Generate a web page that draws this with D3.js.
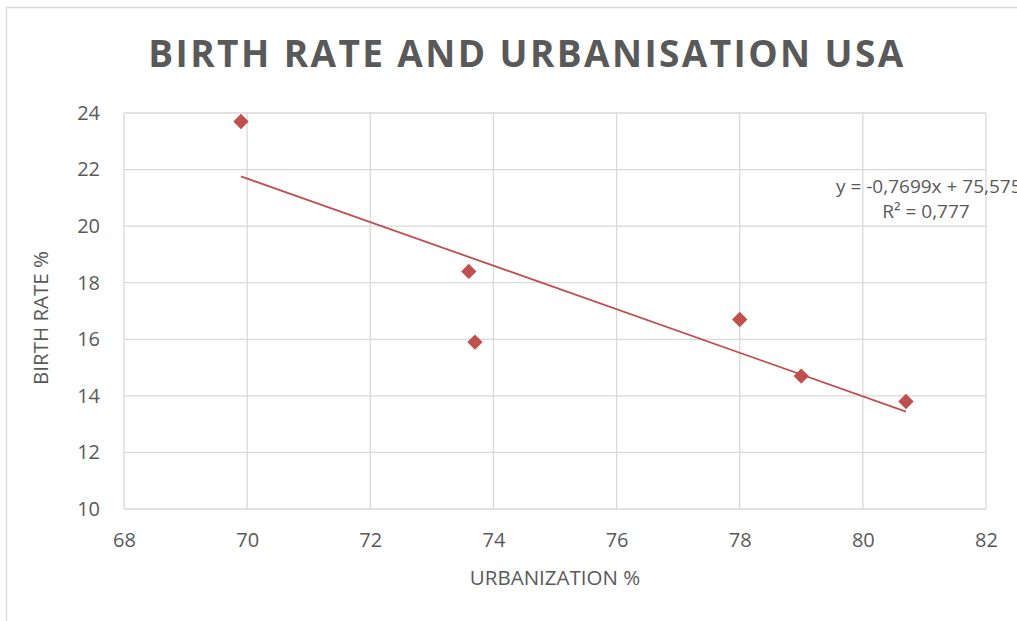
<!DOCTYPE html>
<html>
<head>
<meta charset="utf-8">
<script src="https://cdn.jsdelivr.net/npm/d3@7"></script>
<style>
  body { margin: 0; background: #fff; }
  text { font-family: "Open Sans", Calibri, sans-serif; fill: #595959; }
  .grid line { stroke: #d9d9d9; stroke-width: 1.3; }
  .axis path, .axis line { display: none; }
</style>
</head>
<body>
<div id="chart"></div>
<script>
// data
var urbanization = [69.9, 73.6, 73.7, 78, 79, 80.7];
var birthRate = [23.7, 18.4, 15.9, 16.7, 14.7, 13.8];
var xTicks = [68, 70, 72, 74, 76, 78, 80, 82];
var yTicks = [10, 12, 14, 16, 18, 20, 22, 24];
var trendSlope = -0.7699;
var trendIntercept = 75.575;
var trendLabel = ["y = -0,7699x + 75,575", "R² = 0,777"];

var width = 1017;
var height = 621;
var red = "#c0504d";

var svg = d3
    .select("#chart")
    .append("svg")
    .attr("width", width)
    .attr("height", height);

// chart border (cut off at right and bottom)
svg.append("path")
    .attr("d", "M6.5," + height + "V7.5H" + width)
    .attr("fill", "none")
    .attr("stroke", "#d9d9d9")
    .attr("stroke-width", 1.3);

var x = d3.scaleLinear().domain([68, 82]).range([124, 986]);
var y = d3.scaleLinear().domain([10, 24]).range([509, 113]);

// grid
var grid = svg.append("g").attr("class", "grid");
grid.selectAll(".vx")
    .data(xTicks)
    .enter()
    .append("line")
    .attr("x1", function(d) { return x(d); })
    .attr("x2", function(d) { return x(d); })
    .attr("y1", y(10))
    .attr("y2", y(24));
grid.selectAll(".hy")
    .data(yTicks)
    .enter()
    .append("line")
    .attr("x1", x(68))
    .attr("x2", x(82))
    .attr("y1", function(d) { return y(d); })
    .attr("y2", function(d) { return y(d); });

// axes (labels only)
svg.append("g")
    .attr("class", "axis")
    .attr("transform", "translate(0," + y(10) + ")")
    .call(d3.axisBottom(x).tickValues(xTicks).tickSize(0).tickPadding(24))
    .selectAll("text")
    .style("font-size", "20px")
    .attr("fill", "#595959");

svg.append("g")
    .attr("class", "axis")
    .attr("transform", "translate(" + x(68) + ",0)")
    .call(d3.axisLeft(y).tickValues(yTicks).tickSize(0).tickPadding(24))
    .selectAll("text")
    .style("font-size", "20px")
    .attr("fill", "#595959");

// trendline
svg.append("line")
    .attr("x1", x(d3.min(urbanization)))
    .attr("y1", y(trendSlope * d3.min(urbanization) + trendIntercept))
    .attr("x2", x(d3.max(urbanization)))
    .attr("y2", y(trendSlope * d3.max(urbanization) + trendIntercept))
    .attr("stroke", red)
    .attr("stroke-width", 1.8);

// points
var points = urbanization.map(function(d, i) { return [d, birthRate[i]]; });
svg.selectAll(".pt")
    .data(points)
    .enter()
    .append("path")
    .attr("d", d3.symbol().type(d3.symbolDiamond2).size(150))
    .attr("transform", function(d) {
        return "translate(" + x(d[0]) + "," + y(d[1]) + ")";
    })
    .attr("fill", red);

// trendline label
svg.append("text")
    .attr("x", 836)
    .attr("y", 193)
    .style("font-size", "19px")
    .text(trendLabel[0]);
svg.append("text")
    .attr("x", 926)
    .attr("y", 218)
    .attr("text-anchor", "middle")
    .style("font-size", "19px")
    .text(trendLabel[1]);

// title
svg.append("text")
    .attr("x", 527)
    .attr("y", 67)
    .attr("text-anchor", "middle")
    .style("font-size", "37px")
    .style("font-weight", "bold")
    .style("letter-spacing", "2.4px")
    .text("BIRTH RATE AND URBANISATION USA");

// axis titles
svg.append("text")
    .attr("x", 555)
    .attr("y", 585)
    .attr("text-anchor", "middle")
    .style("font-size", "20.5px")
    .text("URBANIZATION %");

svg.append("text")
    .attr("transform", "translate(48,318)rotate(-90)")
    .attr("text-anchor", "middle")
    .style("font-size", "20.5px")
    .text("BIRTH RATE %");
</script>
</body>
</html>
